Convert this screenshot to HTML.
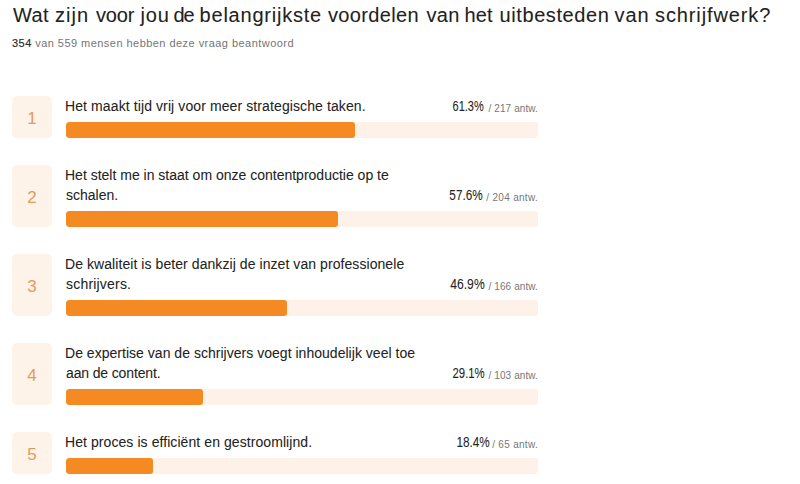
<!DOCTYPE html>
<html><head><meta charset="utf-8">
<style>
html,body{margin:0;padding:0;background:#fff;width:800px;height:484px;overflow:hidden;}
body{position:relative;font-family:"Liberation Sans",sans-serif;color:#222;}
.l{position:absolute;white-space:nowrap;}
.title{left:13px;top:3px;font-size:20px;line-height:24px;color:#222;-webkit-text-stroke:0.08px #222;}
.sub{left:12px;top:36px;font-size:11px;line-height:14px;color:#757575;}
.sub b{color:#2a2a2a;font-weight:normal;-webkit-text-stroke:0.15px #2a2a2a;}
.num{position:absolute;left:12px;width:40px;background:#fef3e9;border-radius:5px;}
.num span{position:absolute;left:0;right:0;text-align:center;font-size:17px;line-height:20px;color:#e39a5b;}
.txt{left:65px;font-size:14px;line-height:20px;color:#222;-webkit-text-stroke:0.05px #222;}
.pct{transform-origin:100% 50%;-webkit-text-stroke:0.05px #222;font-size:14px;line-height:20px;color:#222;}
.sm{font-size:10px;line-height:20px;color:#777;}
.track{position:absolute;left:66px;width:472px;height:16px;background:#fef2e8;border-radius:3px;overflow:hidden;}
.fill{position:absolute;left:0;top:0;bottom:0;background:#f58a22;border-radius:3px;}
</style></head><body>
<div class="l title" style="left:13px;letter-spacing:0.4px">Wat</div>
<div class="l title" style="left:55px;letter-spacing:1.025px">zijn</div>
<div class="l title" style="left:96px;letter-spacing:-0.142px">voor</div>
<div class="l title" style="left:140.5px;letter-spacing:0.9px">jou</div>
<div class="l title" style="left:173.5px;letter-spacing:-1.225px">de</div>
<div class="l title" style="left:199.6px;letter-spacing:0.775px">belangrijkste</div>
<div class="l title" style="left:328.0px;letter-spacing:0.34px">voordelen</div>
<div class="l title" style="left:426.5px;letter-spacing:0.275px">van</div>
<div class="l title" style="left:464.6px;letter-spacing:0.025px">het</div>
<div class="l title" style="left:499.6px;letter-spacing:0.575px">uitbesteden</div>
<div class="l title" style="left:614.4px;letter-spacing:1.025px">van</div>
<div class="l title" style="left:655px;letter-spacing:0.889px">schrijfwerk?</div>
<div class="l sub" style="letter-spacing:0.457px"><b>354</b> van 559 mensen hebben deze vraag beantwoord</div>
<div class="num" style="top:96px;height:42px"><span style="top:13.0px">1</span></div>
<div class="l txt" style="top:96px;margin-left:0px;letter-spacing:0.103px">Het maakt tijd vrij voor meer strategische taken.</div>
<div class="l sm" style="right:262px;top:98.7px;letter-spacing:0.1px">/ 217 antw.</div>
<div class="l pct" style="right:316.0px;top:96.3px;transform:scaleX(0.7843)">61.3%</div>
<div class="track" style="top:122px"><div class="fill" style="width:289.3px"></div></div>
<div class="num" style="top:165px;height:62px"><span style="top:23.0px">2</span></div>
<div class="l txt" style="top:165px;margin-left:0px;letter-spacing:0.0px">Het stelt me in staat om onze contentproductie op te</div>
<div class="l txt" style="top:185px;margin-left:1px;letter-spacing:0.0px">schalen.</div>
<div class="l sm" style="right:262px;top:187.7px;letter-spacing:0.3px">/ 204 antw.</div>
<div class="l pct" style="right:317.0px;top:185.3px;transform:scaleX(0.8397)">57.6%</div>
<div class="track" style="top:211px"><div class="fill" style="width:271.9px"></div></div>
<div class="num" style="top:254px;height:62px"><span style="top:23.0px">3</span></div>
<div class="l txt" style="top:254px;margin-left:0px;letter-spacing:0.069px">De kwaliteit is beter dankzij de inzet van professionele</div>
<div class="l txt" style="top:274px;margin-left:1px;letter-spacing:0.2px">schrijvers.</div>
<div class="l sm" style="right:262px;top:276.7px;letter-spacing:0.1px">/ 166 antw.</div>
<div class="l pct" style="right:315.0px;top:274.3px;transform:scaleX(0.8685)">46.9%</div>
<div class="track" style="top:300px"><div class="fill" style="width:221.4px"></div></div>
<div class="num" style="top:343px;height:62px"><span style="top:23.0px">4</span></div>
<div class="l txt" style="top:343px;margin-left:0px;letter-spacing:0.025px">De expertise van de schrijvers voegt inhoudelijk veel toe</div>
<div class="l txt" style="top:363px;margin-left:1px;letter-spacing:-0.138px">aan de content.</div>
<div class="l sm" style="right:262px;top:365.7px;letter-spacing:0.1px">/ 103 antw.</div>
<div class="l pct" style="right:315.0px;top:363.3px;transform:scaleX(0.8113)">29.1%</div>
<div class="track" style="top:389px"><div class="fill" style="width:137.4px"></div></div>
<div class="num" style="top:432px;height:42px"><span style="top:13.0px">5</span></div>
<div class="l txt" style="top:432px;margin-left:0px;letter-spacing:0.075px">Het proces is effici&euml;nt en gestroomlijnd.</div>
<div class="l sm" style="right:262px;top:434.7px;letter-spacing:0.3px">/ 65 antw.</div>
<div class="l pct" style="right:310.0px;top:432.3px;transform:scaleX(0.8389)">18.4%</div>
<div class="track" style="top:458px"><div class="fill" style="width:86.8px"></div></div>
</body></html>
